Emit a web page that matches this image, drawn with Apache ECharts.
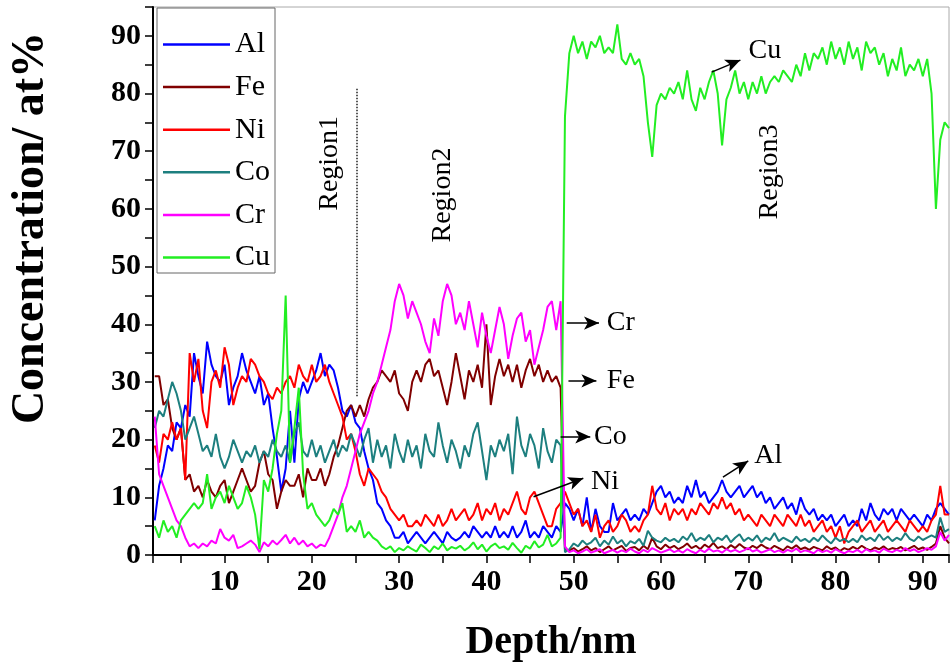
<!DOCTYPE html>
<html>
<head>
<meta charset="utf-8">
<script src="https://cdn.jsdelivr.net/npm/echarts@6/dist/echarts.min.js"></script>
<style>
html, body { margin: 0; padding: 0; background: #fff; }
#echart { width: 952px; height: 671px; }
</style>
</head>
<body>
<div id="echart"></div>
<script>
// depth grid (nm)
var depth = [
	2, 2.5, 3, 3.5, 4, 4.5, 5, 5.5, 6, 6.5,
	7, 7.5, 8, 8.5, 9, 9.5, 10, 10.5, 11, 11.5,
	12, 12.5, 13, 13.5, 14, 14.5, 15, 15.5, 16, 16.5,
	17, 17.5, 18, 18.5, 19, 19.5, 20, 20.5, 21, 21.5,
	22, 22.5, 23, 23.5, 24, 24.5, 25, 25.5, 26, 26.5,
	27, 27.5, 28, 28.5, 29, 29.5, 30, 30.5, 31, 31.5,
	32, 32.5, 33, 33.5, 34, 34.5, 35, 35.5, 36, 36.5,
	37, 37.5, 38, 38.5, 39, 39.5, 40, 40.5, 41, 41.5,
	42, 42.5, 43, 43.5, 44, 44.5, 45, 45.5, 46, 46.5,
	47, 47.5, 48, 48.5, 49, 49.5, 50, 50.5, 51, 51.5,
	52, 52.5, 53, 53.5, 54, 54.5, 55, 55.5, 56, 56.5,
	57, 57.5, 58, 58.5, 59, 59.5, 60, 60.5, 61, 61.5,
	62, 62.5, 63, 63.5, 64, 64.5, 65, 65.5, 66, 66.5,
	67, 67.5, 68, 68.5, 69, 69.5, 70, 70.5, 71, 71.5,
	72, 72.5, 73, 73.5, 74, 74.5, 75, 75.5, 76, 76.5,
	77, 77.5, 78, 78.5, 79, 79.5, 80, 80.5, 81, 81.5,
	82, 82.5, 83, 83.5, 84, 84.5, 85, 85.5, 86, 86.5,
	87, 87.5, 88, 88.5, 89, 89.5, 90, 90.5, 91, 91.5,
	92, 92.5, 93
];
// concentrations (at%)
var al = [
	6, 12, 15, 19, 18, 23, 22, 26, 24, 35,
	31, 28, 37, 33, 31, 30, 33, 26, 29, 31,
	35, 32, 30, 28, 31, 26, 28, 22, 17, 11,
	15, 25, 16, 27, 30, 28, 30, 32, 35, 31,
	33, 32, 29, 25, 24, 26, 23, 22, 18, 15,
	13, 9, 8, 6, 5, 3, 3, 4, 2, 3,
	4, 3, 2, 3, 4, 3, 2, 4, 3, 2.5,
	3, 4, 3, 5, 4, 3, 4, 3, 5, 3,
	4, 3, 5, 3, 4, 6, 3, 4, 3, 5,
	4, 3, 5, 4, 9, 8, 6, 8, 5, 10,
	4, 8, 5, 4, 4, 9, 6, 7, 8, 6,
	7, 6, 8, 7, 9, 11, 12, 10, 11, 9,
	10, 9, 12, 10, 13, 10, 11, 9, 10, 11,
	13, 11, 10, 11, 12, 10, 11, 12, 10, 11,
	9, 10, 8, 9, 10, 8, 9, 7, 10, 8,
	7, 8, 6, 7, 6, 7, 5, 6, 7, 5,
	6, 5, 8, 6, 9, 7, 6, 8, 7, 8,
	6, 8, 7, 6, 7, 6, 5, 7, 6, 8,
	9, 8, 7
];
var fe = [
	31, 31, 26, 27, 22, 20, 22, 13, 14, 11,
	12, 10, 13, 11, 10, 12, 13, 9, 11, 13,
	15, 13, 11, 12, 16, 18, 14, 13, 8, 11,
	13, 12, 12, 14, 10, 15, 13, 13, 15, 12,
	14, 17, 19, 22, 25, 26, 24, 26, 24, 27,
	29, 30, 32, 31, 30, 32, 28, 27, 25, 30,
	32, 30, 33, 34, 31, 32, 29, 26, 30, 35,
	31, 27, 32, 30, 33, 29, 40, 26, 31, 34,
	31, 33, 30, 33, 29, 32, 34, 31, 33, 30,
	32, 30, 31, 29, 1, 0.8, 1.2, 0.6, 1, 1.5,
	0.8, 1.2, 0.5, 1, 1.5, 0.8, 1.2, 1.6, 0.7, 1.2,
	1.4, 0.8, 1.6, 1, 3, 1.5, 1, 1.8, 1.2, 1.6,
	1, 1.4, 2, 1.2, 1.6, 1, 1.8, 1.3, 2.1, 1.2,
	1.5, 1, 1.7, 1.2, 1.9, 1.3, 1, 1.6, 1.2, 1.8,
	1.3, 1, 1.6, 1.2, 0.8, 1.5, 1.1, 1.7, 1, 1.3,
	0.9, 1.4, 1.1, 0.8, 1.5, 1, 1.3, 0.7, 1.2, 0.9,
	1.4, 1, 1.6, 1.1, 0.8, 1.3, 1, 1.5, 0.9, 1.2,
	1, 1.4, 0.8, 1.2, 1.6, 1, 1.3, 0.9, 1.4, 2,
	5, 3, 2
];
var ni = [
	19, 16, 21, 20, 23, 20, 22, 13, 35, 30,
	34, 25, 22, 30, 32, 29, 36, 33, 26, 29,
	31, 30, 34, 33, 31, 30, 28, 27, 29, 28,
	30, 31, 29, 33, 31, 30, 33, 30, 31, 33,
	30, 28, 26, 24, 20, 21, 18, 14, 12, 15,
	14, 13, 11, 10, 8, 7, 6, 7, 5, 5,
	6, 5, 7, 6, 5, 7, 5, 6, 8, 6,
	7, 8, 6, 7, 9, 6, 8, 7, 9, 6,
	8, 7, 9, 11, 8, 7, 10, 11, 9, 7,
	5, 5, 8, 9, 11, 9, 7, 8, 5, 6,
	4, 7, 3, 5, 6, 4, 5, 7, 6, 4,
	5, 4, 6, 7, 12, 8, 7, 9, 6, 8,
	7, 8, 6, 8, 7, 9, 8, 7, 9, 8,
	10, 8, 9, 7, 8, 6, 7, 6, 5, 7,
	6, 5, 7, 6, 5, 7, 6, 5, 7, 5,
	6, 4, 5, 6, 4, 5, 3, 5, 2, 4,
	5, 6, 4, 5, 6, 4, 5, 6, 4, 5,
	6, 5, 4, 6, 5, 4, 5, 4, 6, 7,
	12, 7, 7
];
var co = [
	22, 25, 24, 27, 30, 28, 25, 20, 22, 24,
	21, 18, 19, 17, 21, 17, 15, 17, 20, 18,
	16, 18, 17, 19, 16, 18, 17, 20, 18, 17,
	19, 16, 21, 23, 18, 17, 20, 17, 19, 16,
	18, 20, 17, 19, 18, 21, 19, 17, 20, 22,
	16, 20, 17, 19, 15, 21, 18, 16, 20, 17,
	19, 15, 21, 18, 17, 23, 19, 16, 20, 18,
	15, 19, 17, 21, 23, 18, 13, 19, 17, 20,
	18, 21, 14, 24, 19, 17, 21, 19, 15, 22,
	18, 16, 20, 19, 0.5, 1, 2, 1.5, 2.5, 1.8,
	2.2, 3, 1.5, 2.5, 1.8, 3.2, 2, 2.6, 1.5, 2.4,
	2, 2.8, 1.6, 4.2, 3, 2.5, 2.2, 3, 2.4, 2.8,
	2.2, 3.2, 2.6, 3.8, 2.4, 3, 2.6, 3.5, 2.2, 3,
	2.6, 3.4, 2.2, 3, 3.6, 2.4, 3, 2.5, 3.4, 2.2,
	3, 2.6, 3.8, 2.4, 3, 2.6, 2.2, 3.2, 2.4, 2.8,
	2.2, 3, 2.4, 3.4, 2.6, 2, 3, 2.4, 2.8, 2.2,
	2.8, 2.2, 3.4, 2.6, 3, 2.4, 3.6, 2.6, 3.2, 2.4,
	3, 2.6, 3.8, 2.8, 2.4, 3.2, 2.6, 3, 3.4, 3,
	6.5, 4, 4.5
];
var cr = [
	24, 14, 12, 10, 8, 6, 5, 3, 1.5, 2,
	1.2, 2, 1.5, 2.5, 2, 4.5, 3, 2.5, 3.5, 1.2,
	1.5, 2, 2.5, 1.8, 0.5, 2.2, 1.5, 2.5, 1.8, 2.6,
	3.5, 2, 3, 1.8, 2.5, 1.5, 2, 1.2, 1.8, 1.5,
	3, 5, 7, 10, 12, 15, 18, 21, 23, 25,
	28, 30, 33, 36, 39, 44, 47, 45, 41, 44,
	42, 40, 37, 35, 41, 38, 44, 47, 45, 40,
	42, 39, 44, 40, 36, 42, 38, 35, 39, 43,
	40, 34, 38, 41, 42, 37, 39, 33, 36, 39,
	43, 44, 39, 44, 1.5, 0.5, 0.8, 0.3, 0.6, 1,
	0.4, 0.7, 1, 0.3, 0.6, 0.9, 0.4, 0.8, 0.5, 1.1,
	0.6, 0.3, 0.9, 0.5, 1.2, 0.8, 0.4, 0.7, 1, 0.5,
	0.8, 0.4, 1, 0.6, 0.3, 0.9, 0.5, 1.1, 0.6, 0.8,
	0.4, 1, 0.6, 0.9, 0.5, 0.8, 1.2, 0.6, 0.9, 0.4,
	0.7, 1, 0.5, 0.8, 0.4, 0.9, 0.6, 1.1, 0.5, 0.8,
	0.6, 0.3, 0.9, 0.5, 0.8, 0.4, 1, 0.6, 0.3, 0.7,
	0.5, 0.9, 0.4, 1, 0.6, 0.8, 0.4, 1.1, 0.7, 0.5,
	0.9, 0.6, 1.2, 0.7, 1, 0.5, 0.8, 1.2, 0.9, 1.5,
	4, 2.5, 3.5
];
var cu = [
	5, 3, 6, 4, 5, 3, 6, 7, 8, 9,
	8, 9, 14, 8, 10, 11, 9, 12, 10, 8,
	9, 12, 10, 7, 1, 13, 11, 15, 21, 25,
	45, 16, 22, 29, 14, 8, 9, 7, 6, 5,
	6, 8, 7, 9, 4, 5, 4, 6, 3, 4,
	3, 2.5, 1.5, 1, 1.5, 0.5, 1.2, 0.8, 1.5, 1,
	0.6, 1.8, 1.2, 0.5, 1.5, 1, 2, 0.8, 1.4, 1.1,
	1.6, 0.8, 1.3, 2.2, 1, 1.8, 0.6, 1.5, 2, 1.2,
	1.5, 0.9, 2.1, 1.2, 0.4, 1.6, 1.1, 2.4, 1.3, 1.8,
	3.5, 1.5, 2, 3, 76, 87, 90, 87, 89, 86,
	89, 88, 90, 87, 88, 87, 92, 86, 85, 87,
	85, 86, 83, 75, 69, 78, 80, 79, 81, 80,
	82, 79, 84, 79, 77, 81, 79, 82, 84, 80,
	71, 79, 81, 84, 80, 82, 79, 82, 80, 83,
	80, 82, 83, 82, 84, 83, 82, 85, 83, 87,
	84, 87, 86, 88, 85, 89, 86, 88, 85, 89,
	86, 88, 84, 89, 87, 88, 85, 87, 83, 86,
	84, 88, 83, 85, 84, 86, 83, 86, 80, 60,
	72, 75, 74
];
var names = ['Al', 'Fe', 'Ni', 'Co', 'Cr', 'Cu'];
var colors = ['#0000ff', '#800000', '#ff0000', '#1d7f7f', '#ff00ff', '#22ee22'];
var values = [al, fe, ni, co, cr, cu];

// arrows: [x1, y1, x2, y2] and their labels [text, x, y]
var arrows = [
	[49.2, 40.2, 52.9, 40.2],
	[49.4, 30.2, 52.6, 30.2],
	[48.5, 20.5, 51.9, 20.5],
	[45.4, 10.1, 51.1, 13.3],
	[67.1, 13.5, 70.0, 16.3],
	[65.8, 83.7, 69.1, 85.8]
];
var arrowLabels = [
	['Cr', 55.4, 40.2],
	['Fe', 55.4, 30.2],
	['Co', 54.2, 20.5],
	['Ni', 53.6, 12.8],
	['Al', 72.3, 17.2],
	['Cu', 71.9, 87.5]
];
var regions = [
	['Region1', 22.0, 67.9],
	['Region2', 35.0, 62.4],
	['Region3', 72.5, 66.4]
];
var divider = [25.2, 27.5, 81];

var serif = '"Liberation Serif", "Times New Roman", serif';
var myChart = echarts.init(document.getElementById('echart'));

var series = names.map(function (n, k) {
	return {
		name: n,
		type: 'line',
		showSymbol: false,
		lineStyle: { width: 2, color: colors[k] },
		itemStyle: { color: colors[k] },
		data: depth.map(function (d, i) { return [d, values[k][i]]; })
	};
});

var lineMarks = arrows.map(function (a) {
	return [
		{ coord: [a[0], a[1]], symbol: 'none' },
		{ coord: [a[2], a[3]], symbol: 'arrow', symbolSize: [10, 15] }
	];
});
lineMarks.push([
	{ coord: [divider[0], divider[1]], symbol: 'none', lineStyle: { type: 'dotted', width: 1.5, color: '#222' } },
	{ coord: [divider[0], divider[2]], symbol: 'none' }
]);

var pointMarks = arrowLabels.map(function (l) {
	return { coord: [l[1], l[2]], value: l[0] };
}).concat(regions.map(function (r) {
	return { coord: [r[1], r[2]], value: r[0], label: { rotate: 90 } };
}));

series.push({
	name: 'notes',
	type: 'line',
	data: [],
	markLine: {
		silent: true,
		symbol: 'none',
		lineStyle: { color: '#000', width: 1.5, type: 'solid' },
		label: { show: false },
		data: lineMarks
	},
	markPoint: {
		silent: true,
		symbol: 'circle',
		symbolSize: 1,
		itemStyle: { color: 'rgba(0,0,0,0)' },
		label: {
			show: true,
			position: 'inside',
			formatter: '{c}',
			color: '#000',
			fontFamily: serif,
			fontSize: 28
		},
		data: pointMarks
	}
});

var tenLabel = function (v) { return Math.abs(v % 10) < 1e-6 ? String(v) : ''; };

option = {
	animation: false,
	backgroundColor: '#fff',
	grid: {
		left: 153,
		right: 1,
		top: 7,
		bottom: 116,
		show: true,
		borderColor: '#aaa',
		borderWidth: 1
	},
	legend: {
		data: names,
		orient: 'vertical',
		left: 157,
		top: 8,
		icon: 'rect',
		itemWidth: 67,
		itemHeight: 2.5,
		itemGap: 11.6,
		padding: [21, 5, 0, 6],
		borderColor: '#666',
		borderWidth: 1,
		backgroundColor: '#fff',
		textStyle: { fontFamily: serif, fontSize: 30, lineHeight: 31, color: '#000' }
	},
	xAxis: {
		type: 'value',
		min: 1.8,
		max: 93,
		splitNumber: 18,
		name: 'Depth/nm',
		nameLocation: 'middle',
		nameGap: 68,
		nameTextStyle: { fontFamily: serif, fontWeight: 'bold', fontSize: 40, color: '#000' },
		axisLine: { lineStyle: { color: '#000', width: 2 } },
		axisTick: { length: 8, lineStyle: { color: '#000', width: 1.5 } },
		axisLabel: { formatter: tenLabel, margin: 12, fontFamily: serif, fontWeight: 'bold', fontSize: 30, color: '#000' },
		splitLine: { show: false }
	},
	yAxis: {
		type: 'value',
		min: 0,
		max: 95,
		interval: 5,
		axisLine: { lineStyle: { color: '#000', width: 2 } },
		axisTick: { length: 8, lineStyle: { color: '#000', width: 1.5 } },
		axisLabel: { formatter: tenLabel, margin: 12, fontFamily: serif, fontWeight: 'bold', fontSize: 30, color: '#000' },
		splitLine: { show: false }
	},
	graphic: [{
		type: 'text',
		x: 31,
		y: 228,
		rotation: Math.PI / 2,
		style: {
			text: 'Concentration/ at%',
			fontFamily: serif,
			fontWeight: 'bold',
			fontSize: 46,
			fill: '#000',
			align: 'center',
			verticalAlign: 'middle'
		}
	}],
	series: series
};
myChart.setOption(option);
</script>
</body>
</html>
